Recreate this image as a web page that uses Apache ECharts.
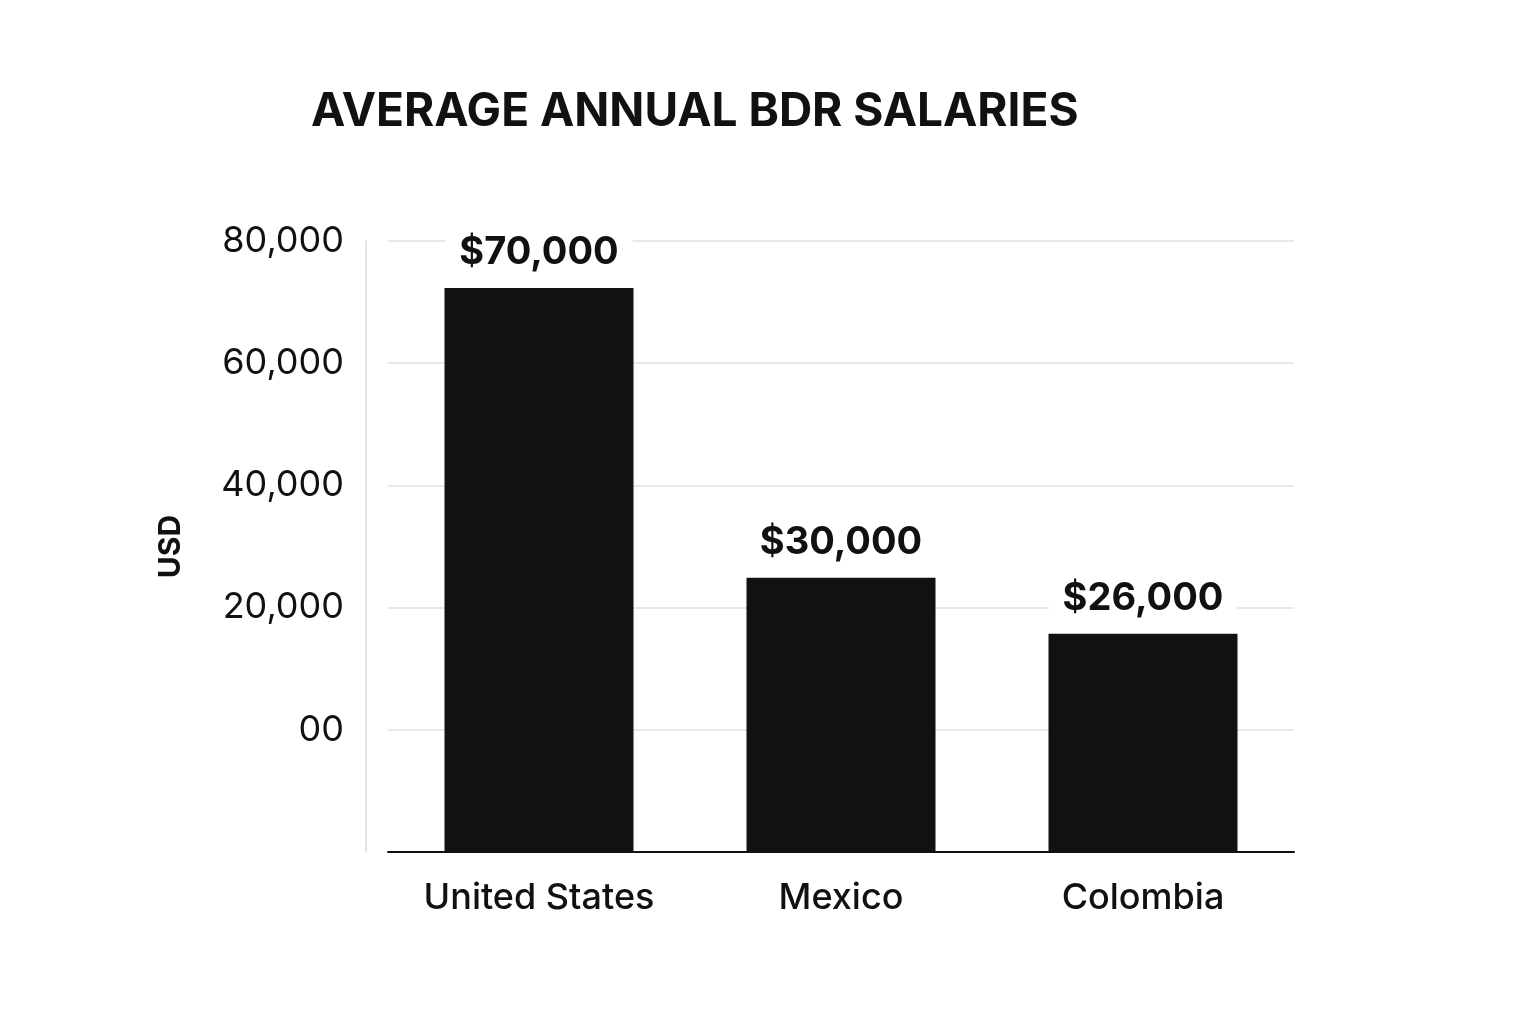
<!DOCTYPE html>
<html lang="en">
    <head>
        <meta charset="UTF-8" />
        <title>Average Annual BDR Salaries</title>
        <script src="https://cdn.jsdelivr.net/npm/echarts@6/dist/echarts.min.js"></script>
        <style>
            * { margin: 0; padding: 0; }
            #chart { width: 1536px; height: 1024px; background: #fff; }
        </style>
    </head>
    <body>
        <div id="chart"></div>
        <script type="text/javascript">
            // categories and values as drawn in the picture
            var countries = ['United States', 'Mexico', 'Colombia'];
            // bar heights on the axis as drawn (axis is shifted: label = value - 20000)
            var barHeights = [92300, 44900, 35700];
            var valueLabels = ['$70,000', '$30,000', '$26,000'];
            var tickLabels = { 20000: '00', 40000: '20,000', 60000: '40,000', 80000: '60,000', 100000: '80,000' };

            var myChart = echarts.init(document.getElementById('chart'));
            var option = {
                animation: false,
                textStyle: { fontFamily: 'Inter, Roboto, sans-serif' },
                title: {
                    text: 'AVERAGE ANNUAL BDR SALARIES',
                    left: 306,
                    top: 84,
                    textStyle: { fontSize: 46, fontWeight: 'bold', color: '#111' }
                },
                grid: { left: 388, width: 906, top: 241, bottom: 172 },
                xAxis: {
                    type: 'category',
                    data: countries,
                    axisTick: { show: false },
                    axisLine: { lineStyle: { color: '#111', width: 2 } },
                    axisLabel: { fontSize: 36, fontWeight: 500, color: '#111', margin: 28 }
                },
                yAxis: {
                    type: 'value',
                    min: 0,
                    max: 100000,
                    interval: 20000,
                    offset: 22,
                    name: 'USD',
                    nameLocation: 'middle',
                    nameGap: 180,
                    nameRotate: 90,
                    nameTextStyle: { fontSize: 30, fontWeight: 'bold', color: '#111' },
                    axisLine: { show: true, lineStyle: { color: '#e4e4e4', width: 2 } },
                    axisTick: { show: false },
                    axisLabel: {
                        fontSize: 36,
                        color: '#111',
                        margin: 22,
                        formatter: function (v) { return tickLabels[v] || ''; }
                    },
                    splitLine: { lineStyle: { color: '#e8e8e8', width: 2 } }
                },
                series: [
                    {
                        type: 'bar',
                        data: barHeights,
                        barWidth: 189,
                        itemStyle: { color: '#111' },
                        label: {
                            show: true,
                            position: 'top',
                            distance: 14,
                            fontSize: 38,
                            fontWeight: 'bold',
                            color: '#111',
                            backgroundColor: '#fff',
                            padding: [2, 14],
                            formatter: function (p) { return valueLabels[p.dataIndex]; }
                        }
                    }
                ]
            };
            myChart.setOption(option);
        </script>
    </body>
</html>
